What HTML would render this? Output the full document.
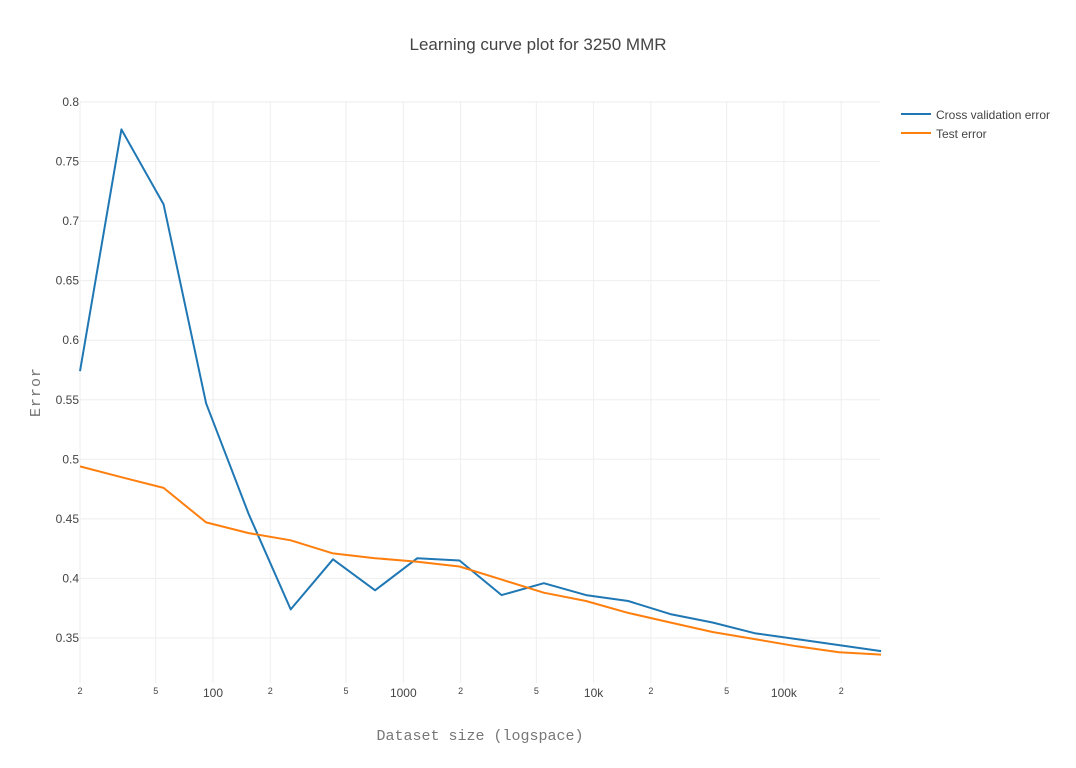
<!DOCTYPE html>
<html><head><meta charset="utf-8"><style>
body{margin:0;background:#fff;font-family:"Liberation Sans",sans-serif}
svg text{font-family:"Liberation Sans",sans-serif}
</style></head><body>
<svg id="chart" width="1076" height="763" viewBox="0 0 1076 763" xmlns="http://www.w3.org/2000/svg">
<text x="538" y="50" text-anchor="middle" font-size="17" fill="#444">Learning curve plot for 3250 MMR</text>
<g id="grid"></g>
<g id="ticks"></g>
<g id="series"></g>
<text transform="translate(40,392) rotate(-90)" text-anchor="middle" font-size="15" fill="#777" style="font-family:'Liberation Mono',monospace;letter-spacing:1px">Error</text>
<text x="480" y="740" text-anchor="middle" font-size="15" fill="#777" style="font-family:'Liberation Mono',monospace">Dataset size (logspace)</text>
<g>
<g><line x1="901" y1="114" x2="931" y2="114" stroke="#1f77b4" stroke-width="2"/><text x="936" y="119" font-size="12" fill="#444">Cross validation error</text></g>
<g><line x1="901" y1="133" x2="931" y2="133" stroke="#ff7f0e" stroke-width="2"/><text x="936" y="138" font-size="12" fill="#444">Test error</text></g>
</g>
</svg>
<script>
const sizes=[20,33,55,92,154,256,427,711,1184,1973,3286,5474,9118,15190,25300,42140,70190,116900,194700,324300];
const cvError=[0.574,0.777,0.714,0.547,0.454,0.374,0.416,0.390,0.417,0.415,0.386,0.396,0.386,0.381,0.370,0.363,0.354,0.349,0.344,0.339];
const testError=[0.494,0.485,0.476,0.447,0.438,0.432,0.421,0.417,0.414,0.410,0.399,0.388,0.381,0.371,0.363,0.355,0.349,0.343,0.338,0.336];
const yTicks=[0.35,0.4,0.45,0.5,0.55,0.6,0.65,0.7,0.75,0.8];
const yTickLabels=["0.35","0.4","0.45","0.5","0.55","0.6","0.65","0.7","0.75","0.8"];
const xTicks=[20,50,100,200,500,1000,2000,5000,10000,20000,50000,100000,200000];
const xTickLabels=["2","5","100","2","5","1000","2","5","10k","2","5","100k","2"];

const X0=80,X1=880,Y0=683,Ytop=101;
const lmin=Math.log10(20),decPx=190.3;
function xs(v){return X0+(Math.log10(v)-lmin)*decPx;}
function ys(v){return 102+(0.8-v)*1191;}
const NS="http://www.w3.org/2000/svg";
function mk(t,a,p){const e=document.createElementNS(NS,t);for(const k in a)e.setAttribute(k,a[k]);p.appendChild(e);return e;}
const grid=document.getElementById('grid'),ticks=document.getElementById('ticks'),series=document.getElementById('series');
yTicks.forEach((v,i)=>{
 const l=mk('line',{x1:X0,x2:X1,y1:ys(v),y2:ys(v),stroke:'#eee','stroke-width':1},grid);
 
 
 const t=mk('text',{x:X0-1,y:ys(v)+4,'text-anchor':'end','font-size':12,fill:'#444'},ticks);
 t.textContent=yTickLabels[i];
 
 
});
xTicks.forEach((v,i)=>{
 const l=mk('line',{x1:xs(v),x2:xs(v),y1:Ytop,y2:Y0,stroke:'#eee','stroke-width':1},grid);
 
 
 const major=xTickLabels[i].length>1;
 const t=mk('text',{x:xs(v),y:major?697:694,'text-anchor':'middle','font-size':major?12:9,fill:'#444'},ticks);
 t.textContent=xTickLabels[i];
 
 
});
function line(vals,color,name){
 const d=vals.map((v,i)=>(i?'L':'M')+xs(sizes[i]).toFixed(1)+','+ys(v).toFixed(1)).join('');
 const p=mk('path',{d:d,fill:'none',stroke:color,'stroke-width':2,'stroke-linejoin':'round'},series);
 
 
}
line(cvError,'#1f77b4','cv-error-line');
line(testError,'#ff7f0e','test-error-line');
</script>
</body></html>
